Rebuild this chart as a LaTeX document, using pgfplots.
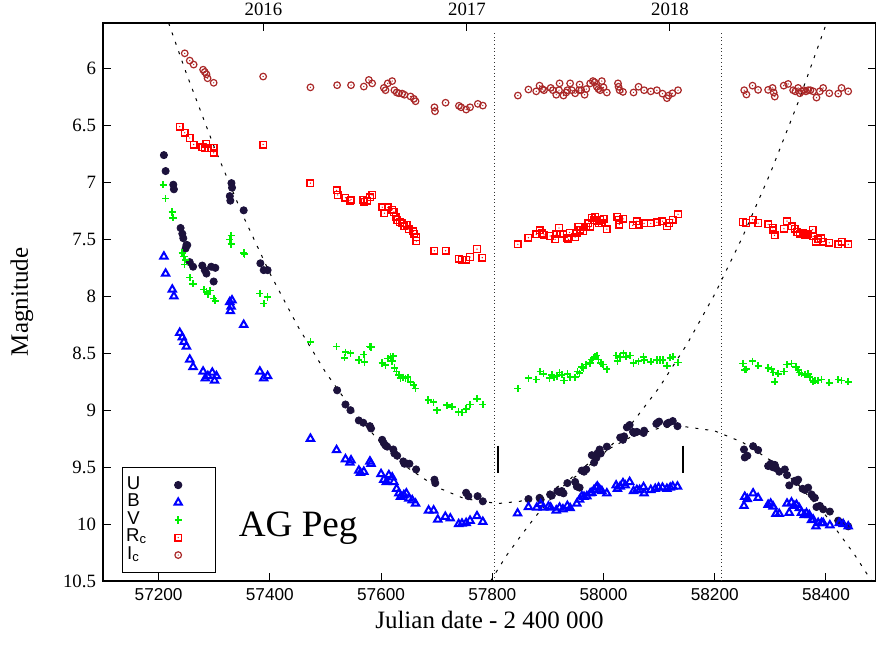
\documentclass[border=0pt]{standalone}
\usepackage{fontspec}
\setmainfont{Liberation Serif}
\setsansfont{Liberation Sans}
\usepackage{pgfplots}
\pgfplotsset{compat=1.18}
\definecolor{cU}{RGB}{28,18,60}
\definecolor{cB}{RGB}{0,0,255}
\definecolor{cV}{RGB}{0,240,0}
\definecolor{cR}{RGB}{255,0,0}
\definecolor{cI}{RGB}{170,40,40}
\pgfdeclareplotmark{sqdot}{%
  \pgfpathrectangle{\pgfqpoint{-\pgfplotmarksize}{-\pgfplotmarksize}}{\pgfqpoint{2\pgfplotmarksize}{2\pgfplotmarksize}}%
  \pgfusepathqstroke
  \pgfpathcircle{\pgfpointorigin}{0.35pt}\pgfusepathqfill}
\pgfdeclareplotmark{cdot}{%
  \pgfpathcircle{\pgfpointorigin}{\pgfplotmarksize}\pgfusepathqstroke
  \pgfpathcircle{\pgfpointorigin}{0.35pt}\pgfusepathqfill}
\pgfplotsset{mymarks/.style={only marks,
  legend image code/.code={\path[draw=none,fill=none] (0pt,-3pt) (25pt,3pt); \draw[##1] plot coordinates {(8.5pt,0pt)};}}}
\begin{document}
\begin{tikzpicture}
\path[use as bounding box] (-51.5pt,-31.5pt) rectangle (386.5pt,290.5pt);
\begin{axis}[
  at={(0pt,0pt)}, anchor=south west,
  scale only axis, width=386.5pt, height=279pt,
  xmin=57100, xmax=58490, ymin=5.6, ymax=10.5, y dir=reverse,
  xtick={57200,57400,...,58400}, ytick={6,6.5,...,10.5},
  scaled x ticks=false,
  xtick pos=bottom, ytick pos=both, yticklabel pos=left,
  tick align=inside, major tick length=4pt,
  tick style={black, line width=0.5pt},
  /pgf/number format/assume math mode=true,
  /pgf/number format/1000 sep={},
  xticklabel style={font=\sffamily\fontsize{8.6}{10}\selectfont},
  yticklabel style={font=\fontsize{9.4}{11}\selectfont},
  xlabel={Julian date - 2 400 000}, ylabel={Magnitude},
  label style={font=\fontsize{12.5}{14}\selectfont},
  xlabel style={at={(axis description cs:0.5,-0.0699)},anchor=center},
  ylabel style={at={(axis description cs:-0.1048,0.5)},anchor=center},
  axis line style={line width=0.6pt},
  legend plot pos=right, legend cell align=center,
  legend style={at={(axis description cs:0.0242,0.0138)}, anchor=south west,
    draw=black, line width=0.5pt, inner xsep=2pt, inner ysep=4.5pt, row sep=0pt,
    font=\sffamily\fontsize{9.3}{9.3}\selectfont,
    nodes={inner sep=0pt, text height=6.5pt, text depth=2.25pt, text width=7.3pt, align=center},
    /tikz/column sep=10.2pt},
]
% fitted curves
\addplot[black, line width=0.5pt, dash pattern=on 1.5pt off 3.5pt, forget plot] coordinates {
(57218,5.60)(57250,6.044)(57300,6.689)(57350,7.273)(57400,7.797)(57450,8.261)(57500,8.665)(57550,9.008)(57600,9.291)(57650,9.513)(57700,9.675)(57750,9.777)(57809.5,9.82)(57850,9.800)(57900,9.721)(57950,9.582)(58000,9.382)(58050,9.122)(58100,8.802)(58150,8.422)(58200,7.981)(58250,7.479)(58300,6.918)(58350,6.296)(58401,5.60)};
\addplot[black, line width=0.5pt, dash pattern=on 1.5pt off 3.5pt, forget plot] coordinates {
(57797,10.5)(57825,10.28)(57850,10.112)(57875,9.95)(57900,9.805)(57950,9.556)(58000,9.366)(58050,9.233)(58100,9.158)(58139.5,9.14)(58200,9.182)(58250,9.282)(58300,9.439)(58350,9.654)(58400,9.927)(58450,10.258)(58482,10.5)};
\addplot[black!80, line width=0.4pt, dash pattern=on 0.5pt off 1.3pt, forget plot] coordinates {(57803,5.69)(57803,10.5)};
\addplot[black!80, line width=0.4pt, dash pattern=on 0.5pt off 1.3pt, forget plot] coordinates {(58212,5.69)(58212,10.5)};
\addplot[black, line width=1pt, forget plot] coordinates {(57811,9.31)(57811,9.55)};
\addplot[black, line width=1pt, forget plot] coordinates {(58143,9.31)(58143,9.55)};
% U
\addplot[mymarks, mark=*, mark size=1.8pt, color=cU, mark options={fill=cU}] coordinates {
(57209.5,6.76)(57212.6,6.90)(57226.4,7.02)(57227.5,7.06)(57239.5,7.40)(57242.6,7.45)(57244.4,7.49)(57250,7.55)(57248.5,7.58)(57251.5,7.55)(57256,7.70)(57262,7.74)(57278.5,7.73)(57283,7.77)(57286,7.80)(57294.6,7.74)(57302,7.75)(57299,7.87)(57331,7.006)(57332,7.046)(57328,7.12)(57329,7.16)(57353,7.245)(57383,7.71)(57389,7.77)(57396,7.77)
(57521,8.825)(57536,8.95)(57545,9.0)(57560,9.09)(57568,9.11)(57580,9.14)(57582,9.16)(57602,9.26)(57605,9.29)(57608,9.31)(57611,9.32)(57622,9.345)(57624,9.38)(57629,9.40)(57640,9.45)(57642,9.47)(57647,9.47)(57651,9.47)(57663,9.52)(57696,9.61)(57697.5,9.64)(57753,9.725)(57757,9.755)(57773.6,9.755)(57783,9.80)
(57865,9.78)(57885,9.77)(57887,9.785)(57904,9.74)(57907,9.75)(57917,9.71)(57921,9.72)(57925,9.71)(57928,9.73)(57935,9.64)(57949,9.63)(57952,9.67)(57957,9.68)(57961,9.53)(57965,9.54)(57969,9.52)(57979,9.395)(57983,9.46)(57987,9.42)(57989,9.38)(57993,9.345)(57995,9.38)(58006,9.32)(58030,9.24)(58035,9.26)(58037,9.23)(58042,9.15)(58047,9.13)(58053,9.19)(58055,9.20)(58060,9.19)(58072,9.20)(58073,9.18)(58095,9.12)(58097,9.11)(58100,9.10)(58114,9.12)(58117,9.11)(58124.5,9.095)(58133,9.14)
(58252.6,9.345)(58254,9.415)(58258.6,9.40)(58269,9.316)(58278,9.35)(58296,9.49)(58300.6,9.47)(58304,9.50)(58308,9.48)(58310,9.51)(58316,9.54)(58326,9.52)(58330,9.57)(58334,9.66)(58344,9.62)(58350,9.61)(58347,9.63)(58358,9.69)(58362,9.70)(58368,9.68)(58374,9.74)(58377,9.76)(58380,9.77)(58383,9.85)(58389,9.84)(58395,9.87)(58407,9.89)(58422,9.97)(58428,9.99)(58440,10.02)};
\addlegendentry{U}
% B
\addplot[mymarks, mark=triangle, mark size=2.1pt, color=cB, mark options={line width=1pt}] coordinates {
(57209.5,7.65)(57212.6,7.80)(57224.6,7.94)(57227.5,8.0)(57238,8.32)(57242.6,8.36)(57245.5,8.40)(57250,8.44)(57256,8.555)(57262,8.62)(57280,8.66)(57284,8.72)(57288.5,8.70)(57296.5,8.67)(57300.6,8.74)(57304,8.70)(57328,8.05)(57330.5,8.09)(57329,8.13)(57332,8.035)(57353,8.25)(57382,8.66)(57389,8.72)(57396,8.70)
(57473,9.25)(57520,9.35)(57536,9.43)(57544,9.46)(57546,9.44)(57560,9.53)(57563,9.55)(57569,9.54)(57580,9.45)(57582,9.47)(57600,9.56)(57605,9.61)(57609.6,9.63)(57614,9.57)(57620,9.59)(57623,9.63)(57628,9.69)(57632,9.73)(57635,9.76)(57641,9.745)(57645.5,9.73)(57650,9.775)(57656,9.79)(57662,9.82)(57685.5,9.88)(57694.5,9.88)(57702,9.96)(57715.5,9.935)(57724.5,9.95)(57739.5,10.0)(57745.5,9.995)(57753,9.99)(57760,9.97)(57772.5,9.93)(57783,9.98)
(57845.5,9.906)(57865,9.85)(57880,9.855)(57887,9.825)(57892,9.855)(57901,9.845)(57905,9.855)(57915,9.88)(57921,9.855)(57927,9.87)(57935,9.84)(57940,9.86)(57952,9.82)(57957,9.785)(57961,9.755)(57965,9.76)(57970,9.755)(57976,9.73)(57979,9.725)(57983,9.70)(57987,9.68)(57989,9.67)(57993,9.695)(57997,9.71)(58006,9.73)(58022.7,9.66)(58025,9.69)(58030,9.67)(58035,9.64)(58039,9.66)(58047,9.63)(58054,9.71)(58060,9.70)(58065,9.70)(58072,9.675)(58073,9.73)(58085,9.70)(58093,9.69)(58099,9.68)(58106,9.68)(58114,9.69)(58120,9.68)(58124.5,9.67)(58133,9.67)
(58252.6,9.84)(58254,9.76)(58258.6,9.78)(58269,9.73)(58278,9.77)(58296,9.83)(58300.6,9.82)(58305,9.845)(58310,9.91)(58316,9.91)(58330,9.82)(58334,9.90)(58338,9.81)(58342.6,9.84)(58347,9.83)(58352,9.86)(58356,9.90)(58361,9.92)(58365,9.905)(58370,9.92)(58374,9.965)(58377,9.96)(58382,10.02)(58386,9.99)(58392,9.99)(58395,9.99)(58407,10.01)(58424,9.99)(58431,10.0)(58440,10.02)};
\addlegendentry{B}
% V
\addplot[mymarks, mark=+, mark size=1.8pt, color=cV, mark options={line width=0.85pt}] coordinates {
(57208.5,7.02)(57212.6,7.14)(57224.6,7.26)(57226,7.31)(57242.6,7.62)(57245.5,7.65)(57248.5,7.68)(57246.7,7.72)(57256,7.836)(57262,7.89)(57281,7.94)(57286,7.96)(57288.5,7.98)(57293,7.95)(57299,8.02)(57302,8.04)(57328,7.50)(57330.5,7.465)(57330.5,7.54)(57353,7.62)(57354.5,7.63)(57382,7.976)(57389,8.064)(57396,8.006)
(57473,8.40)(57520,8.44)(57536,8.49)(57534,8.54)(57545,8.50)(57560,8.56)(57569,8.51)(57570,8.576)(57580,8.44)(57582,8.445)(57602,8.585)(57608,8.605)(57612,8.547)(57617,8.53)(57620,8.57)(57622,8.526)(57624,8.63)(57627.5,8.66)(57632,8.69)(57635,8.72)(57640,8.71)(57644,8.72)(57648,8.71)(57653,8.75)(57659,8.78)(57662,8.81)(57685,8.91)(57694.5,8.93)(57700.5,9.0)(57718.5,8.956)(57727.5,8.97)(57739.5,9.015)(57745.5,9.02)(57753,8.99)(57760,8.95)(57772.5,8.90)(57783,8.95)
(57846,8.81)(57865,8.72)(57879,8.73)(57886,8.66)(57892,8.68)(57903,8.72)(57907,8.69)(57911,8.71)(57916,8.70)(57921,8.67)(57925,8.69)(57929,8.74)(57935,8.68)(57940,8.71)(57949,8.71)(57953,8.66)(57957,8.675)(57961,8.62)(57964,8.63)(57969,8.60)(57976,8.585)(57979,8.555)(57982,8.54)(57985,8.53)(57988,8.52)(57991,8.555)(57995,8.585)(57999,8.60)(58006,8.64)(58022.7,8.52)(58025,8.57)(58030,8.53)(58036,8.50)(58041,8.53)(58048,8.52)(58054,8.585)(58063,8.57)(58072,8.53)(58073,8.56)(58085,8.575)(58096,8.56)(58102,8.56)(58106.5,8.56)(58114,8.61)(58120,8.54)(58124.5,8.53)(58134,8.58)
(58251,8.59)(58254,8.645)(58257,8.64)(58268,8.57)(58278,8.61)(58296,8.63)(58302,8.64)(58305,8.67)(58308,8.75)(58314,8.68)(58324.5,8.66)(58330,8.60)(58338,8.59)(58346,8.62)(58350,8.645)(58352,8.67)(58356,8.68)(58362,8.69)(58368,8.68)(58371,8.71)(58377,8.75)(58380,8.74)(58386,8.74)(58392,8.73)(58406,8.76)(58422,8.73)(58428,8.74)(58440,8.75)};
\addlegendentry{V}
% Rc
\addplot[mymarks, mark=sqdot, mark size=1.65pt, color=cR, mark options={line width=0.7pt}] coordinates {
(57238,6.51)(57247,6.564)(57256,6.61)(57263,6.667)(57278.5,6.69)(57283,6.70)(57286,6.66)(57289,6.70)(57299,6.695)(57299,6.74)(57388,6.667)
(57473,7.006)(57520,7.07)(57522,7.11)(57536,7.134)(57544,7.16)(57546,7.15)(57568,7.15)(57570,7.17)(57575,7.16)(57580,7.13)(57584,7.11)(57602,7.217)(57606,7.27)(57612,7.22)(57620,7.24)(57623,7.26)(57626,7.30)(57629,7.33)(57634,7.35)(57638,7.36)(57642,7.386)(57646,7.37)(57650,7.41)(57658,7.43)(57660,7.45)(57663.5,7.48)(57663.5,7.515)(57696,7.60)(57716,7.60)(57739.5,7.67)(57745.5,7.68)(57753,7.68)(57760,7.655)(57772.5,7.585)(57782,7.66)
(57846,7.544)(57865,7.485)(57879,7.456)(57885,7.42)(57890,7.445)(57893,7.46)(57904,7.47)(57913,7.50)(57915,7.456)(57920,7.40)(57922,7.45)(57928,7.456)(57935,7.485)(57937,7.50)(57939,7.44)(57949,7.48)(57952,7.44)(57955,7.39)(57958,7.415)(57964,7.43)(57969,7.39)(57973,7.36)(57976,7.39)(57979,7.31)(57982,7.333)(57985,7.30)(57988,7.34)(57991,7.36)(57994,7.33)(57997,7.36)(58000,7.32)(58006,7.41)(58025,7.30)(58027,7.33)(58028.5,7.37)(58035,7.32)(58052.5,7.377)(58060,7.34)(58063,7.37)(58073,7.36)(58085,7.36)(58096,7.35)(58106,7.34)(58114,7.386)(58118,7.357)(58124.5,7.327)(58134,7.28)
(58251,7.348)(58257,7.357)(58268,7.327)(58278,7.357)(58296,7.368)(58304,7.397)(58305,7.42)(58307.5,7.465)(58324.5,7.406)(58330,7.34)(58338.5,7.386)(58344,7.406)(58348.5,7.436)(58353,7.45)(58358,7.445)(58362,7.465)(58368,7.456)(58376,7.415)(58377,7.474)(58382,7.52)(58386,7.50)(58391,7.49)(58395,7.52)(58406,7.53)(58422,7.544)(58428,7.52)(58440,7.544)};
\addlegendentry{R\textsubscript{c}}
% Ic
\addplot[mymarks, mark=cdot, mark size=1.65pt, color=cI, mark options={line width=0.6pt}] coordinates {
(57247,5.866)(57256,5.93)(57263,5.965)(57280,6.01)(57283,6.03)(57286,6.05)(57288,6.085)(57299,6.125)(57388,6.07)(57473,6.165)(57521,6.146)(57546,6.146)(57569,6.158)(57578,6.10)(57584,6.13)(57605,6.17)(57608,6.19)(57612,6.13)(57620,6.11)(57624,6.19)(57628,6.21)(57632,6.217)(57638,6.22)(57642,6.23)(57653,6.245)(57659,6.266)(57662,6.287)(57696,6.34)(57697,6.375)(57716,6.30)(57740,6.327)(57744,6.34)(57753,6.36)(57760,6.34)(57774,6.31)(57783,6.325)
(57846,6.237)(57865,6.184)(57879,6.2)(57885,6.15)(57890,6.18)(57893,6.19)(57905,6.17)(57909,6.19)(57915,6.23)(57920,6.19)(57921,6.13)(57928,6.237)(57933,6.21)(57935,6.19)(57940,6.13)(57943,6.19)(57949,6.217)(57956,6.19)(57957,6.14)(57960,6.19)(57966,6.23)(57969,6.18)(57976,6.13)(57981,6.11)(57984,6.12)(57988,6.16)(57991,6.18)(57994,6.19)(57997,6.11)(58000,6.165)(58006,6.21)(58026,6.13)(58027,6.16)(58029,6.19)(58035,6.205)(58054,6.21)(58063,6.16)(58073,6.19)(58085,6.2)(58096,6.19)(58106,6.22)(58114,6.26)(58117,6.237)(58124,6.217)(58134,6.19)
(58253,6.19)(58257,6.228)(58268,6.15)(58278,6.187)(58296,6.187)(58304,6.17)(58306,6.21)(58308,6.246)(58324,6.15)(58332,6.135)(58341,6.19)(58345,6.2)(58350,6.17)(58353,6.217)(58356,6.2)(58360,6.19)(58364,6.2)(58368,6.19)(58372,6.19)(58377,6.2)(58383,6.255)(58389,6.2)(58395,6.17)(58406,6.217)(58422,6.22)(58428,6.17)(58440,6.2)};
\addlegendentry{I\textsubscript{c}}
\node[anchor=base, font=\fontsize{18.6}{20}\selectfont] at (axis cs:57451,10.11) {AG Peg};
\end{axis}
\begin{axis}[
  at={(0pt,0pt)}, anchor=south west,
  scale only axis, width=386.5pt, height=279pt,
  xmin=57100, xmax=58490, ymin=5.6, ymax=10.5, y dir=reverse,
  scaled x ticks=false,
  axis x line*=top, axis y line=none,
  xtick={57388.5,57754.5,58119.5}, xticklabels={2016,2017,2018},
  tick align=inside, major tick length=4pt,
  tick style={black, line width=0.5pt},
  xticklabel style={font=\fontsize{9.4}{11}\selectfont},
  axis line style={line width=0.6pt},
]
\end{axis}
\end{tikzpicture}
\end{document}
